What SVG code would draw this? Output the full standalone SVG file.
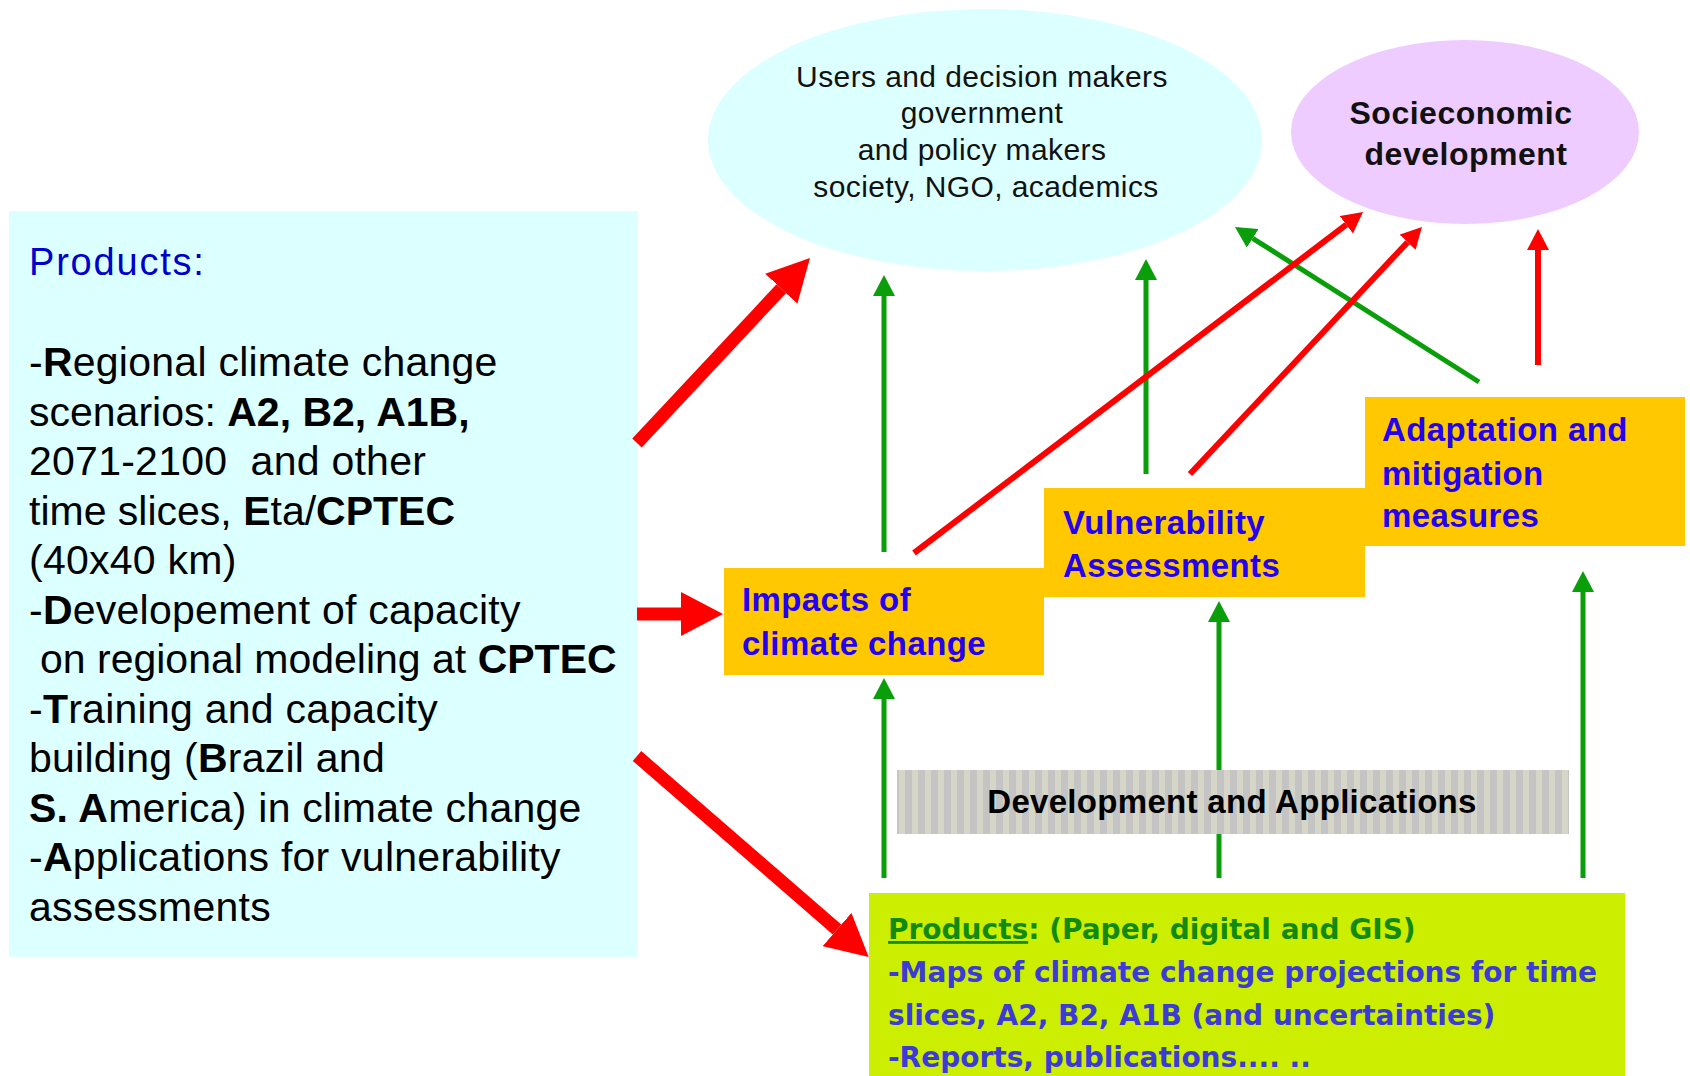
<svg xmlns="http://www.w3.org/2000/svg" width="1690" height="1076" viewBox="0 0 1690 1076">
  <style>
    .lbl { font-family: "Liberation Sans", Arial, sans-serif; }
    .left { font-size: 41px; fill: #000; letter-spacing: 0.25px; }
    .tight { letter-spacing: 0px; }
    .b { font-weight: bold; }
    .users { font-size: 30px; fill: #111; letter-spacing: 0.4px; text-anchor: middle; }
    .socio { font-size: 32px; font-weight: bold; fill: #111; letter-spacing: 0.5px; text-anchor: middle; }
    .orange { font-size: 33px; font-weight: bold; fill: #2400f0; letter-spacing: 0.4px; }
    .prod { font-family: "DejaVu Sans", Verdana, sans-serif; font-size: 28px; font-weight: bold; }
    .green { fill: #118a11; }
    .blue { fill: #3b3bd6; }
    .dev { font-size: 33px; font-weight: bold; fill: #000; letter-spacing: 0.3px; text-anchor: middle; }
    .thick { stroke: #ff0000; stroke-width: 13; fill: none; marker-end: url(#headBig); }
    .gline { stroke: #0a9e0a; stroke-width: 5; fill: none; marker-end: url(#headGreen); }
    .rline { stroke: #ff0000; stroke-width: 6; fill: none; marker-end: url(#headRed); }
    .box-orange { fill: #ffc800; }
  </style>
  <defs>
    <marker id="headBig" viewBox="0 -22 42 44" markerUnits="userSpaceOnUse" markerWidth="42" markerHeight="44" refX="0" refY="0" orient="auto">
      <path d="M0,-22 L42,0 L0,22 Z" fill="#ff0000"/>
    </marker>
    <marker id="headGreen" viewBox="0 -11 21 22" markerUnits="userSpaceOnUse" markerWidth="21" markerHeight="22" refX="0" refY="0" orient="auto">
      <path d="M0,-11 L21,0 L0,11 Z" fill="#0a9e0a"/>
    </marker>
    <marker id="headRed" viewBox="0 -11 21 22" markerUnits="userSpaceOnUse" markerWidth="21" markerHeight="22" refX="0" refY="0" orient="auto">
      <path d="M0,-11 L21,0 L0,11 Z" fill="#ff0000"/>
    </marker>
    <pattern id="stripes" width="13" height="10" patternUnits="userSpaceOnUse">
      <rect width="13" height="10" fill="#c4c4c4"/>
      <rect x="2" width="6" height="10" fill="#d6d6c8"/>
    </pattern>
  </defs>

  <rect width="1690" height="1076" fill="#ffffff"/>

  <!-- Left panel: products list -->
  <g id="products-left">
    <rect x="9" y="211" width="629" height="746" fill="#dcffff"/>
    <text class="lbl" x="29" y="275" font-size="38" fill="#0000cc" letter-spacing="1.8">Products:</text>
    <text class="lbl left" x="29" y="376">-<tspan class="b">R</tspan>egional climate change</text>
    <text class="lbl left tight" x="29" y="425.5">scenarios: <tspan class="b">A2, B2, A1B,</tspan></text>
    <text class="lbl left" x="29" y="475" xml:space="preserve">2071-2100  and other</text>
    <text class="lbl left tight" x="29" y="524.5">time slices, <tspan class="b">E</tspan>ta/<tspan class="b">CPTEC</tspan></text>
    <text class="lbl left" x="29" y="574">(40x40 km)</text>
    <text class="lbl left" x="29" y="623.5">-<tspan class="b">D</tspan>evelopement of capacity</text>
    <text class="lbl left tight" x="40" y="673">on regional modeling at <tspan class="b">CPTEC</tspan></text>
    <text class="lbl left" x="29" y="722.5">-<tspan class="b">T</tspan>raining and capacity</text>
    <text class="lbl left" x="29" y="772">building (<tspan class="b">B</tspan>razil and</text>
    <text class="lbl left" x="29" y="821.5"><tspan class="b">S. A</tspan>merica) in climate change</text>
    <text class="lbl left" x="29" y="871" letter-spacing="1.5">-<tspan class="b">A</tspan>pplications for vulnerability</text>
    <text class="lbl left" x="29" y="920.5">assessments</text>
  </g>

  <!-- Users ellipse -->
  <g id="users">
    <ellipse cx="985" cy="140" rx="277" ry="131" fill="#dcffff"/>
    <text class="lbl users" x="982" y="87">Users and decision makers</text>
    <text class="lbl users" x="982" y="123">government</text>
    <text class="lbl users" x="982" y="160">and policy makers</text>
    <text class="lbl users" x="986" y="197">society, NGO, academics</text>
  </g>

  <!-- Socioeconomic ellipse -->
  <g id="socioeconomic">
    <ellipse cx="1465" cy="132" rx="174" ry="92" fill="#eeccff"/>
    <text class="lbl socio" x="1461" y="124">Socieconomic</text>
    <text class="lbl socio" x="1466" y="165">development</text>
  </g>

  <!-- Stepped orange boxes -->
  <g id="impacts">
    <rect class="box-orange" x="724" y="568" width="320" height="107"/>
    <text class="lbl orange" x="742" y="611">Impacts of</text>
    <text class="lbl orange" x="742" y="655">climate change</text>
  </g>
  <g id="vulnerability">
    <rect class="box-orange" x="1044" y="488" width="321" height="109"/>
    <text class="lbl orange" x="1063" y="534">Vulnerability</text>
    <text class="lbl orange" x="1063" y="577">Assessments</text>
  </g>
  <g id="adaptation">
    <rect class="box-orange" x="1365" y="397" width="320" height="149"/>
    <text class="lbl orange" x="1382" y="441">Adaptation and</text>
    <text class="lbl orange" x="1382" y="485">mitigation</text>
    <text class="lbl orange" x="1382" y="527">measures</text>
  </g>

  <!-- Bottom products box -->
  <g id="products-bottom">
    <rect x="869" y="893" width="756" height="190" fill="#ccee00"/>
    <text class="prod green" x="888" y="939"><tspan text-decoration="underline">Products</tspan>: (Paper, digital and GIS)</text>
    <text class="prod blue" x="888" y="982">-Maps of climate change projections for time</text>
    <text class="prod blue" x="888" y="1025">slices, A2, B2, A1B (and uncertainties)</text>
    <text class="prod blue" x="888" y="1067">-Reports, publications.... ..</text>
  </g>

  <!-- Connectors -->
  <g id="connectors">
    <line class="thick" x1="637" y1="443" x2="781.3" y2="288.7"/>
    <line class="thick" x1="637" y1="614" x2="681" y2="614"/>
    <line class="thick" x1="637" y1="756" x2="837" y2="929.5"/>

    <line class="gline" x1="884" y1="552" x2="884" y2="296"/>
    <line class="gline" x1="1146" y1="474" x2="1146" y2="280"/>
    <line class="gline" x1="1479" y1="382" x2="1252.7" y2="238.3"/>

    <line class="rline" x1="914" y1="553" x2="1346.3" y2="224.7"/>
    <line class="rline" x1="1190" y1="474" x2="1407.6" y2="242.2"/>
    <line class="rline" x1="1538" y1="365" x2="1538" y2="250"/>

    <line class="gline" x1="884" y1="878" x2="884" y2="699"/>
    <line class="gline" x1="1219" y1="878" x2="1219" y2="622"/>
    <line class="gline" x1="1583" y1="878" x2="1583" y2="592"/>
  </g>

  <!-- Striped banner drawn over the vertical links -->
  <g id="development">
    <rect x="897" y="770" width="672" height="64" fill="url(#stripes)"/>
    <text class="lbl dev" x="1232" y="813">Development and Applications</text>
  </g>
</svg>
